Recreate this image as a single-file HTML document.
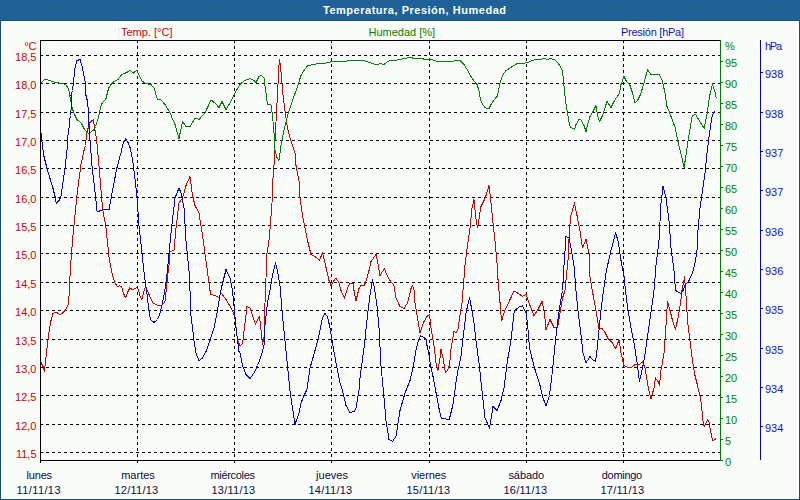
<!DOCTYPE html>
<html><head><meta charset="utf-8"><title>Temperatura, Presión, Humedad</title>
<style>html,body{margin:0;padding:0;background:#fff;}svg{display:block;}</style></head>
<body><svg width="800" height="500" viewBox="0 0 800 500">
<rect x="0" y="0" width="800" height="500" fill="#fafcfa"/>
<rect x="1" y="21" width="797" height="477" fill="none" stroke="#ffffff" stroke-width="1" transform="translate(0.5 0.5)" shape-rendering="crispEdges"/>
<defs><pattern id="tp" x="0" y="0" width="10" height="10" patternUnits="userSpaceOnUse"><rect width="10" height="10" fill="#1e6192"/><rect x="6" y="0" width="1" height="1" fill="#2462b2"/><rect x="9" y="0" width="1" height="1" fill="#2462b2"/><rect x="2" y="2" width="1" height="1" fill="#2462b2"/><rect x="4" y="3" width="1" height="1" fill="#2462b2"/><rect x="7" y="3" width="1" height="1" fill="#2462b2"/><rect x="2" y="5" width="1" height="1" fill="#2462b2"/><rect x="5" y="6" width="1" height="1" fill="#2462b2"/><rect x="8" y="5" width="1" height="1" fill="#2462b2"/><rect x="1" y="8" width="1" height="1" fill="#2462b2"/><rect x="4" y="8" width="1" height="1" fill="#2462b2"/><rect x="7" y="8" width="1" height="1" fill="#2462b2"/><rect x="9" y="9" width="1" height="1" fill="#2462b2"/></pattern></defs>
<rect x="0" y="0" width="800" height="20" fill="url(#tp)" shape-rendering="crispEdges"/>
<rect x="0" y="20" width="800" height="1" fill="#105087"/>
<rect x="0" y="20" width="1" height="480" fill="#0c4f8b"/>
<rect x="799" y="20" width="1" height="480" fill="#0c4f8b"/>
<rect x="0" y="499" width="800" height="1" fill="#0c4f8b"/>
<g shape-rendering="crispEdges"><line x1="40" y1="55.5" x2="720" y2="55.5" stroke="#000" stroke-dasharray="3 3"/><line x1="40" y1="83.5" x2="720" y2="83.5" stroke="#000" stroke-dasharray="3 3"/><line x1="40" y1="112.5" x2="720" y2="112.5" stroke="#000" stroke-dasharray="3 3"/><line x1="40" y1="140.5" x2="720" y2="140.5" stroke="#000" stroke-dasharray="3 3"/><line x1="40" y1="168.5" x2="720" y2="168.5" stroke="#000" stroke-dasharray="3 3"/><line x1="40" y1="197.5" x2="720" y2="197.5" stroke="#000" stroke-dasharray="3 3"/><line x1="40" y1="225.5" x2="720" y2="225.5" stroke="#000" stroke-dasharray="3 3"/><line x1="40" y1="253.5" x2="720" y2="253.5" stroke="#000" stroke-dasharray="3 3"/><line x1="40" y1="282.5" x2="720" y2="282.5" stroke="#000" stroke-dasharray="3 3"/><line x1="40" y1="310.5" x2="720" y2="310.5" stroke="#000" stroke-dasharray="3 3"/><line x1="40" y1="339.5" x2="720" y2="339.5" stroke="#000" stroke-dasharray="3 3"/><line x1="40" y1="367.5" x2="720" y2="367.5" stroke="#000" stroke-dasharray="3 3"/><line x1="40" y1="395.5" x2="720" y2="395.5" stroke="#000" stroke-dasharray="3 3"/><line x1="40" y1="424.5" x2="720" y2="424.5" stroke="#000" stroke-dasharray="3 3"/><line x1="40" y1="452.5" x2="720" y2="452.5" stroke="#000" stroke-dasharray="3 3"/><line x1="137.5" y1="40" x2="137.5" y2="463" stroke="#000" stroke-dasharray="3 3"/><line x1="234.5" y1="40" x2="234.5" y2="463" stroke="#000" stroke-dasharray="3 3"/><line x1="331.5" y1="40" x2="331.5" y2="463" stroke="#000" stroke-dasharray="3 3"/><line x1="429.5" y1="40" x2="429.5" y2="463" stroke="#000" stroke-dasharray="3 3"/><line x1="526.5" y1="40" x2="526.5" y2="463" stroke="#000" stroke-dasharray="3 3"/><line x1="623.5" y1="40" x2="623.5" y2="463" stroke="#000" stroke-dasharray="3 3"/></g>
<g shape-rendering="crispEdges">
<polyline points="40.0,362.5 41.0,362.5 43.0,366.5 44.4,371.5 45.6,360.5 47.0,348.5 49.0,332.5 51.0,320.5 53.0,313.5 56.4,312.1 60.0,314.9 63.0,312.5 65.6,310.1 68.0,305.5 69.0,296.5 69.6,282.5 71.0,260.5 72.5,240.5 75.0,215.5 77.5,190.5 81.0,164.5 84.0,150.5 85.5,145.5 86.5,135.5 88.0,128.5 89.0,125.5 90.0,122.5 91.5,121.0 93.5,120.0 94.0,123.5 95.0,130.5 96.0,135.5 97.0,143.5 99.0,165.5 100.0,178.0 102.5,208.0 106.0,228.0 109.4,260.5 111.4,270.1 113.2,277.3 115.0,282.7 117.4,286.7 119.8,285.7 121.6,286.9 123.4,292.9 125.4,298.0 127.6,292.3 129.8,287.9 131.8,289.3 134.2,289.1 136.6,287.5 138.2,289.3 140.2,296.5 141.8,299.9 143.5,292.9 145.4,286.3 147.4,290.5 149.8,296.5 152.8,302.8 155.2,304.3 157.6,305.2 161.8,305.2 164.8,302.5 166.6,286.9 167.8,274.9 169.0,265.3 170.0,251.5 174.0,250.5 176.0,228.0 179.0,203.0 182.5,198.0 186.0,185.5 190.0,176.5 192.5,195.5 195.0,205.5 199.0,213.0 202.5,235.5 206.0,260.5 210.0,290.5 211.0,294.5 215.0,295.5 219.0,297.5 221.0,293.0 225.0,298.0 229.0,304.5 232.5,310.5 235.0,318.0 237.5,340.5 240.0,345.5 242.5,344.5 245.0,323.0 247.0,306.5 250.0,308.0 252.5,315.5 255.5,324.5 257.5,319.5 259.5,316.5 261.0,329.5 262.5,344.5 264.0,338.0 264.5,315.5 265.5,290.5 267.0,253.0 269.0,240.5 270.5,223.0 272.0,203.0 273.0,178.0 274.0,165.5 275.0,140.5 277.0,103.0 279.0,65.5 279.5,59.5 280.5,65.5 282.5,90.5 285.0,110.5 287.5,128.0 290.0,138.0 292.5,145.5 295.0,153.0 296.0,165.5 299.0,180.5 300.0,198.0 302.5,215.5 305.0,228.0 307.5,240.5 311.0,254.5 315.0,256.5 319.5,260.0 322.5,253.0 325.0,263.0 329.0,280.5 331.0,285.5 334.0,280.5 336.0,278.0 339.0,283.0 341.0,290.5 344.5,298.0 347.5,288.5 350.0,283.0 353.0,283.0 354.0,290.5 356.0,300.5 359.0,288.5 361.0,285.5 364.0,285.5 366.0,281.5 369.0,270.5 371.0,261.5 376.0,254.5 377.5,261.5 380.0,275.5 382.5,271.5 384.5,268.5 386.0,273.0 390.0,280.5 394.0,285.5 396.0,298.0 400.0,306.5 404.0,308.5 407.5,303.0 411.0,288.5 412.5,285.5 414.0,289.5 415.0,303.0 417.5,318.0 420.0,333.0 424.0,321.5 427.0,316.5 429.5,314.5 431.0,328.0 434.0,345.5 436.0,363.0 438.0,370.5 440.0,358.0 441.0,349.5 443.0,358.0 445.5,373.0 447.5,370.0 449.5,365.5 451.0,349.5 454.0,331.5 456.0,332.5 458.0,329.5 460.0,315.5 462.0,303.0 463.0,290.5 465.0,265.5 467.5,245.5 470.0,228.0 472.0,208.0 474.0,199.5 475.5,215.5 477.5,228.0 479.5,215.5 481.0,206.5 484.0,200.5 486.0,195.5 489.0,185.5 491.0,203.0 493.0,223.0 495.0,240.5 497.0,262.5 498.2,282.5 499.4,294.5 500.6,310.1 501.6,320.9 503.0,316.1 504.8,310.7 509.0,301.7 513.8,291.5 516.2,292.1 519.8,294.5 522.8,296.3 526.0,294.5 530.0,305.5 534.0,315.5 537.5,310.5 542.0,301.5 544.5,313.0 546.0,329.5 550.0,319.5 554.0,327.5 557.5,328.0 560.0,313.0 562.5,298.0 565.0,290.5 568.0,260.5 569.5,228.0 571.0,215.5 574.5,203.0 577.0,215.5 579.5,228.0 582.5,248.0 586.0,239.5 589.0,253.0 589.0,270.5 591.0,282.5 593.0,294.5 596.0,310.5 599.0,328.5 602.0,328.5 605.0,332.5 608.0,338.5 612.0,342.5 615.6,348.5 618.0,342.5 619.0,339.5 621.0,353.0 624.0,365.5 627.5,367.5 631.0,368.0 635.0,364.5 639.0,365.0 642.5,361.5 645.0,368.0 647.5,383.0 649.5,393.0 651.0,398.5 654.0,388.0 655.5,378.0 658.0,381.5 659.5,385.0 661.0,370.5 664.0,353.0 665.5,333.0 667.5,301.5 670.0,310.5 672.5,320.5 675.5,329.5 678.0,318.0 680.5,303.0 682.0,290.5 684.0,280.5 684.5,276.5 686.0,295.5 687.5,320.5 690.0,340.5 692.5,360.5 695.0,375.5 697.5,385.5 700.5,398.0 702.0,410.5 703.5,425.5 704.5,426.5 707.5,419.5 709.0,421.5 710.5,430.5 712.5,441.0 715.0,439.5 716.0,438.0" fill="none" stroke="#cc0000" stroke-width="1" stroke-linejoin="round"/>
<polyline points="40.0,83.5 41.0,83.0 43.8,80.0 46.0,79.5 50.0,80.5 55.0,82.5 58.8,83.0 62.5,83.0 66.0,85.0 68.8,89.2 69.5,95.5 70.5,98.5 71.5,105.5 73.0,110.5 75.0,115.5 77.0,119.5 80.0,122.0 82.0,124.5 84.0,128.5 86.5,132.0 89.0,134.0 91.5,131.5 94.0,129.5 95.5,126.5 97.0,122.5 98.5,117.0 99.5,112.5 100.5,107.5 101.5,104.0 104.0,101.0 106.0,98.5 107.5,92.5 108.5,88.5 109.5,86.5 111.5,84.0 114.0,81.5 116.0,80.5 118.0,79.5 119.5,77.5 121.0,75.5 123.0,74.0 125.5,73.0 127.5,72.0 129.5,70.7 131.0,71.0 133.5,73.0 135.0,71.7 137.0,70.5 138.5,74.0 139.5,76.5 142.5,81.5 146.0,83.5 151.0,84.5 154.0,88.0 157.5,99.5 161.0,100.0 165.0,104.5 170.0,113.0 175.0,124.5 179.0,138.5 182.5,121.5 186.0,126.5 190.0,126.5 195.0,118.0 199.0,119.5 205.0,113.0 211.0,100.0 215.0,103.0 219.0,107.5 222.0,101.5 226.0,109.5 230.0,103.0 235.0,93.0 240.0,84.5 244.0,81.0 250.0,78.5 254.0,80.5 256.0,82.5 259.0,76.5 261.0,75.5 264.0,77.5 265.0,85.5 267.5,104.5 271.0,105.0 272.5,115.5 274.0,133.0 275.0,150.5 277.0,157.5 279.0,160.5 281.0,145.5 284.0,130.5 287.5,115.5 292.5,100.5 297.5,86.5 301.0,75.5 304.0,70.5 307.5,66.0 312.5,64.5 320.0,63.5 326.0,63.0 332.5,61.5 340.0,61.5 347.5,61.0 355.0,60.5 360.0,60.0 365.0,61.0 371.0,63.0 377.0,65.0 380.0,63.5 384.0,64.5 387.5,61.5 391.0,60.5 397.5,60.0 404.0,58.5 410.0,57.5 415.0,58.5 421.0,58.5 426.0,59.5 431.0,59.5 436.0,61.0 440.0,61.5 452.5,61.5 456.0,60.0 460.0,60.5 464.0,64.5 467.5,70.0 471.0,76.5 474.0,81.0 477.0,84.5 479.0,90.5 480.5,99.5 482.5,104.5 485.5,108.0 489.0,108.5 491.0,104.5 494.0,100.0 497.5,96.0 500.0,83.0 502.5,75.5 505.5,71.0 510.0,68.0 514.0,65.5 517.5,63.5 522.5,63.5 527.5,62.5 531.0,61.0 535.0,59.5 540.0,59.5 544.0,58.5 547.5,59.5 551.0,58.5 555.0,60.0 557.5,62.5 560.5,66.5 562.5,71.5 564.0,85.5 565.5,100.5 567.5,113.0 569.5,125.5 571.0,127.5 574.5,129.5 576.0,124.5 579.0,119.5 581.0,120.0 584.0,125.5 586.0,131.5 588.0,123.0 590.0,116.5 593.0,111.5 596.0,105.5 597.5,115.5 599.5,121.5 602.5,115.5 605.0,108.0 607.0,101.0 609.0,104.5 611.0,107.5 614.0,101.5 617.5,96.0 619.5,93.5 621.0,84.5 624.0,76.5 626.0,80.5 630.0,85.5 632.5,93.0 635.0,103.0 637.5,100.5 640.5,94.5 644.0,83.0 647.5,70.0 651.0,74.5 655.0,74.5 659.5,74.5 662.5,81.5 665.0,93.0 667.0,106.5 670.3,114.5 675.0,127.2 678.4,143.3 681.8,157.1 684.1,167.5 686.4,152.5 688.7,136.4 692.2,115.7 695.6,114.5 699.0,120.3 704.1,128.3 707.1,113.4 709.4,97.3 712.4,83.9 715.2,92.7 716.3,98.5" fill="none" stroke="#008000" stroke-width="1" stroke-linejoin="round"/>
<polyline points="40.0,128.5 41.0,132.5 42.4,145.5 44.0,156.5 47.0,168.5 50.0,178.5 53.0,188.5 55.0,196.5 56.4,203.5 59.0,200.5 61.0,196.5 63.0,182.5 65.0,168.5 67.0,150.5 67.5,145.5 68.0,135.5 69.0,128.5 69.5,120.5 70.5,115.5 71.5,105.5 71.0,95.5 72.5,90.5 75.0,68.0 77.0,60.5 80.0,59.5 82.5,68.0 85.0,80.5 86.0,95.5 87.5,101.5 88.5,112.5 89.0,125.5 89.5,135.5 90.5,145.5 90.8,150.5 92.2,168.5 94.3,185.5 95.7,198.1 97.1,212.1 103.4,209.3 109.0,210.0 111.1,198.1 113.2,186.9 116.7,168.7 121.6,150.5 122.5,145.5 124.0,141.5 125.5,139.0 126.5,140.0 128.0,142.5 130.0,147.5 131.5,154.5 133.0,162.5 134.0,170.5 135.0,178.5 137.0,197.5 139.0,225.5 142.0,253.5 144.0,271.5 145.6,284.5 147.4,296.5 148.6,308.5 150.4,319.5 154.0,322.5 157.5,319.5 160.0,313.3 162.4,303.7 164.8,290.5 166.6,278.5 168.4,260.5 171.0,233.0 175.0,198.0 179.0,188.0 181.0,193.0 184.0,208.0 186.0,240.5 189.0,270.5 190.0,290.5 191.0,315.5 194.0,340.5 196.0,353.0 199.0,361.0 202.5,358.0 206.0,351.5 210.0,340.5 214.0,328.0 217.5,310.5 220.0,295.5 222.0,285.5 226.0,269.5 230.0,278.0 232.5,290.5 234.0,305.5 236.0,328.0 239.0,351.5 240.0,353.0 242.5,365.5 246.0,374.5 250.0,378.5 254.0,373.0 257.5,365.5 261.0,356.5 264.0,345.5 265.0,325.5 267.5,303.0 270.0,290.5 272.5,275.5 275.5,263.0 277.5,270.5 280.0,285.5 282.5,315.5 285.0,340.5 287.5,365.5 290.0,390.5 292.5,408.0 295.0,424.5 299.0,413.0 301.0,403.0 304.0,395.5 307.0,389.5 310.0,368.0 315.0,350.5 319.0,335.5 322.5,318.0 325.0,313.5 327.5,316.5 330.0,328.0 332.5,343.0 336.0,363.0 340.0,383.0 342.5,390.5 346.0,405.5 350.0,412.5 354.0,411.5 356.0,408.0 359.0,390.5 360.0,378.0 364.0,348.0 367.5,315.5 370.0,295.5 372.5,280.0 374.5,288.0 377.0,305.5 379.0,328.0 381.0,365.5 384.0,398.0 386.0,420.5 389.0,439.5 392.5,441.5 396.0,436.5 400.0,410.5 405.0,393.0 410.0,380.5 413.4,365.5 414.6,359.1 415.8,351.1 417.0,346.3 418.2,341.5 419.4,338.3 420.6,335.9 422.2,336.7 424.6,337.9 426.2,340.7 427.0,345.5 427.8,349.5 428.6,352.7 429.4,357.5 430.2,363.1 433.0,376.5 436.0,392.5 439.0,408.5 441.4,418.5 446.0,419.0 449.0,419.5 450.0,416.5 453.0,404.5 456.0,382.5 458.0,370.5 461.0,356.5 463.0,338.5 464.0,330.5 466.0,313.0 469.5,297.5 471.0,305.5 474.0,323.0 476.0,340.5 479.0,363.0 482.5,395.5 485.0,418.0 489.5,428.0 493.0,406.5 497.0,410.5 501.0,400.5 504.0,388.0 507.5,360.5 511.0,340.5 514.0,313.0 516.0,309.5 519.5,306.5 522.5,306.0 526.0,313.0 527.5,323.0 529.5,348.0 532.5,360.5 536.0,373.0 540.0,385.5 543.0,398.0 546.0,405.5 549.5,395.5 552.5,370.5 555.0,345.5 557.5,323.0 560.0,305.5 562.5,290.5 564.0,265.5 566.0,236.5 569.0,238.0 571.0,248.0 574.0,265.5 576.0,290.5 578.0,310.5 580.5,330.5 583.0,353.0 586.0,363.0 590.0,356.5 593.0,360.0 595.6,361.5 597.0,350.5 599.0,330.5 601.0,310.5 603.0,294.5 605.0,280.5 606.4,270.5 611.0,250.5 615.5,233.0 618.0,240.5 621.0,260.5 624.0,275.5 625.5,290.5 628.0,310.5 631.0,328.0 634.5,345.5 637.5,365.5 639.5,381.5 642.0,370.5 644.5,358.0 647.0,340.5 649.5,323.0 652.0,305.5 654.0,290.5 656.0,265.5 659.0,240.5 661.0,203.0 663.0,186.5 666.0,198.0 669.0,220.5 671.0,248.0 674.0,270.5 675.5,290.5 679.0,292.5 681.0,293.5 683.0,290.5 685.0,285.5 689.0,280.5 692.5,273.0 695.0,263.0 697.0,250.5 698.0,230.5 700.0,208.0 702.5,190.5 705.0,173.0 707.1,152.5 709.4,134.1 711.7,118.0 713.3,113.4 715.6,110.6" fill="none" stroke="#0000cc" stroke-width="1" stroke-linejoin="round"/>
</g>
<rect x="40" y="40" width="680" height="1" fill="#000"/><rect x="40" y="40" width="1" height="423" fill="#000"/><rect x="40" y="460" width="680" height="1" fill="#000"/><rect x="720" y="40" width="1" height="421" fill="#008000"/><rect x="720" y="460" width="3" height="1" fill="#008000"/><rect x="720" y="439" width="3" height="1" fill="#008000"/><rect x="720" y="418" width="3" height="1" fill="#008000"/><rect x="720" y="397" width="3" height="1" fill="#008000"/><rect x="720" y="376" width="3" height="1" fill="#008000"/><rect x="720" y="355" width="3" height="1" fill="#008000"/><rect x="720" y="334" width="3" height="1" fill="#008000"/><rect x="720" y="313" width="3" height="1" fill="#008000"/><rect x="720" y="292" width="3" height="1" fill="#008000"/><rect x="720" y="271" width="3" height="1" fill="#008000"/><rect x="720" y="250" width="3" height="1" fill="#008000"/><rect x="720" y="229" width="3" height="1" fill="#008000"/><rect x="720" y="208" width="3" height="1" fill="#008000"/><rect x="720" y="187" width="3" height="1" fill="#008000"/><rect x="720" y="166" width="3" height="1" fill="#008000"/><rect x="720" y="145" width="3" height="1" fill="#008000"/><rect x="720" y="124" width="3" height="1" fill="#008000"/><rect x="720" y="103" width="3" height="1" fill="#008000"/><rect x="720" y="82" width="3" height="1" fill="#008000"/><rect x="720" y="61" width="3" height="1" fill="#008000"/><rect x="760" y="40" width="1" height="420" fill="#0000cc"/><rect x="760" y="72" width="3" height="1" fill="#0000cc"/><rect x="760" y="112" width="3" height="1" fill="#0000cc"/><rect x="760" y="151" width="3" height="1" fill="#0000cc"/><rect x="760" y="190" width="3" height="1" fill="#0000cc"/><rect x="760" y="230" width="3" height="1" fill="#0000cc"/><rect x="760" y="269" width="3" height="1" fill="#0000cc"/><rect x="760" y="308" width="3" height="1" fill="#0000cc"/><rect x="760" y="348" width="3" height="1" fill="#0000cc"/><rect x="760" y="387" width="3" height="1" fill="#0000cc"/><rect x="760" y="426" width="3" height="1" fill="#0000cc"/>
<g font-family='"Liberation Sans", sans-serif' font-size="11"><text x="323" y="14" fill="#ffffff" text-anchor="start" font-weight="bold" textLength="183" lengthAdjust="spacing">Temperatura, Presión, Humedad</text><text x="121" y="36" fill="#cc0000" text-anchor="start" >Temp. [°C]</text><text x="368.5" y="36" fill="#008000" text-anchor="start" >Humedad [%]</text><text x="621" y="36" fill="#1010cc" text-anchor="start" textLength="63" lengthAdjust="spacing">Presión [hPa]</text><text x="36.5" y="50" fill="#cc0000" text-anchor="end" >°C</text><text x="725" y="50" fill="#008000" text-anchor="start" >%</text><text x="765" y="50" fill="#1010cc" text-anchor="start" textLength="17" lengthAdjust="spacing">hPa</text><text x="36.5" y="61" fill="#cc0000" text-anchor="end" >18,5</text><text x="36.5" y="89" fill="#cc0000" text-anchor="end" >18,0</text><text x="36.5" y="118" fill="#cc0000" text-anchor="end" >17,5</text><text x="36.5" y="146" fill="#cc0000" text-anchor="end" >17,0</text><text x="36.5" y="174" fill="#cc0000" text-anchor="end" >16,5</text><text x="36.5" y="203" fill="#cc0000" text-anchor="end" >16,0</text><text x="36.5" y="231" fill="#cc0000" text-anchor="end" >15,5</text><text x="36.5" y="259" fill="#cc0000" text-anchor="end" >15,0</text><text x="36.5" y="288" fill="#cc0000" text-anchor="end" >14,5</text><text x="36.5" y="316" fill="#cc0000" text-anchor="end" >14,0</text><text x="36.5" y="345" fill="#cc0000" text-anchor="end" >13,5</text><text x="36.5" y="373" fill="#cc0000" text-anchor="end" >13,0</text><text x="36.5" y="401" fill="#cc0000" text-anchor="end" >12,5</text><text x="36.5" y="430" fill="#cc0000" text-anchor="end" >12,0</text><text x="36.5" y="458" fill="#cc0000" text-anchor="end" >11,5</text><text x="725" y="466" fill="#008000" text-anchor="start" >0</text><text x="725" y="445" fill="#008000" text-anchor="start" >5</text><text x="725" y="424" fill="#008000" text-anchor="start" >10</text><text x="725" y="403" fill="#008000" text-anchor="start" >15</text><text x="725" y="382" fill="#008000" text-anchor="start" >20</text><text x="725" y="361" fill="#008000" text-anchor="start" >25</text><text x="725" y="340" fill="#008000" text-anchor="start" >30</text><text x="725" y="319" fill="#008000" text-anchor="start" >35</text><text x="725" y="298" fill="#008000" text-anchor="start" >40</text><text x="725" y="277" fill="#008000" text-anchor="start" >45</text><text x="725" y="256" fill="#008000" text-anchor="start" >50</text><text x="725" y="235" fill="#008000" text-anchor="start" >55</text><text x="725" y="214" fill="#008000" text-anchor="start" >60</text><text x="725" y="193" fill="#008000" text-anchor="start" >65</text><text x="725" y="172" fill="#008000" text-anchor="start" >70</text><text x="725" y="151" fill="#008000" text-anchor="start" >75</text><text x="725" y="130" fill="#008000" text-anchor="start" >80</text><text x="725" y="109" fill="#008000" text-anchor="start" >85</text><text x="725" y="88" fill="#008000" text-anchor="start" >90</text><text x="725" y="67" fill="#008000" text-anchor="start" >95</text><text x="765" y="78" fill="#1010cc" text-anchor="start" >938</text><text x="765" y="118" fill="#1010cc" text-anchor="start" >938</text><text x="765" y="157" fill="#1010cc" text-anchor="start" >937</text><text x="765" y="196" fill="#1010cc" text-anchor="start" >937</text><text x="765" y="236" fill="#1010cc" text-anchor="start" >936</text><text x="765" y="275" fill="#1010cc" text-anchor="start" >936</text><text x="765" y="314" fill="#1010cc" text-anchor="start" >935</text><text x="765" y="354" fill="#1010cc" text-anchor="start" >935</text><text x="765" y="393" fill="#1010cc" text-anchor="start" >934</text><text x="765" y="432" fill="#1010cc" text-anchor="start" >934</text><text x="39.3" y="479" fill="#0c0c3c" text-anchor="middle" textLength="25.5" lengthAdjust="spacing">lunes</text><text x="38.5" y="494" fill="#0c0c3c" text-anchor="middle" textLength="44" lengthAdjust="spacing">11/11/13</text><text x="138.0" y="479" fill="#0c0c3c" text-anchor="middle" >martes</text><text x="136.3" y="494" fill="#0c0c3c" text-anchor="middle" textLength="43.8" lengthAdjust="spacing">12/11/13</text><text x="232.75" y="479" fill="#0c0c3c" text-anchor="middle" textLength="44.6" lengthAdjust="spacing">miércoles</text><text x="233.3" y="494" fill="#0c0c3c" text-anchor="middle" textLength="43.8" lengthAdjust="spacing">13/11/13</text><text x="332.0" y="479" fill="#0c0c3c" text-anchor="middle" >jueves</text><text x="330.3" y="494" fill="#0c0c3c" text-anchor="middle" textLength="43.8" lengthAdjust="spacing">14/11/13</text><text x="428.8" y="479" fill="#0c0c3c" text-anchor="middle" textLength="34.9" lengthAdjust="spacing">viernes</text><text x="428.3" y="494" fill="#0c0c3c" text-anchor="middle" textLength="43.8" lengthAdjust="spacing">15/11/13</text><text x="526.3" y="479" fill="#0c0c3c" text-anchor="middle" textLength="35.7" lengthAdjust="spacing">sábado</text><text x="525.3" y="494" fill="#0c0c3c" text-anchor="middle" textLength="43.8" lengthAdjust="spacing">16/11/13</text><text x="622.0" y="479" fill="#0c0c3c" text-anchor="middle" textLength="40.4" lengthAdjust="spacing">domingo</text><text x="622.3" y="494" fill="#0c0c3c" text-anchor="middle" textLength="43.8" lengthAdjust="spacing">17/11/13</text></g>
</svg></body></html>
